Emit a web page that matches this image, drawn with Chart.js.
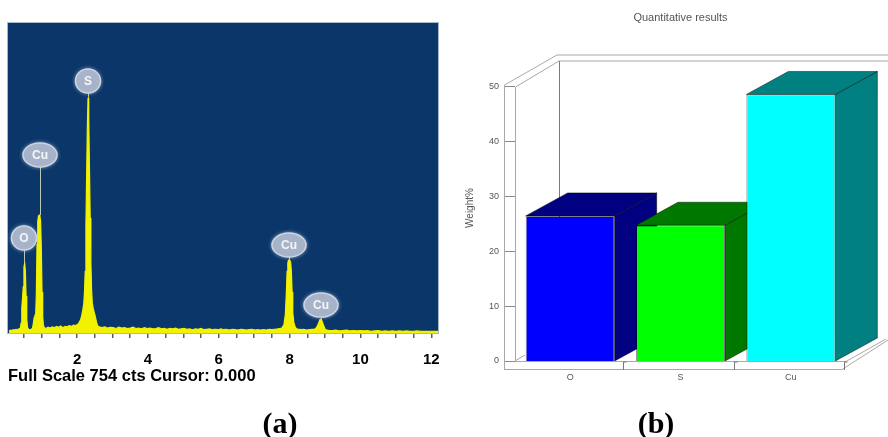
<!DOCTYPE html>
<html><head><meta charset="utf-8">
<script src="https://cdn.jsdelivr.net/npm/chart.js"></script>
<style>
html,body{margin:0;padding:0;background:#fff;width:888px;height:437px;overflow:hidden;position:relative}
canvas{position:absolute;top:0}
#ca{left:0}
#cb{left:444px}
.cap{position:absolute;font-family:'Liberation Serif','Times New Roman',serif;font-weight:bold;font-size:30px;line-height:30px;color:#000;transform:translateX(-50%);white-space:nowrap}
</style></head><body>
<canvas id="ca" width="444" height="437"></canvas>
<canvas id="cb" width="444" height="437"></canvas>
<div class="cap" style="left:280px;top:408px">(a)</div>
<div class="cap" style="left:656px;top:408px">(b)</div>
<script>
// ---------- (a) EDS spectrum ----------
const energyKeV = [
  0.08,0.12,0.16,0.20,0.24,0.28,0.32,0.36,0.40,0.42,0.44,0.46,0.48,0.50,0.52,0.54,0.56,0.58,0.60,
  0.63,0.66,0.70,0.74,0.77,0.79,0.81,0.83,0.85,0.87,0.89,0.91,0.93,0.95,0.97,0.99,1.01,1.03,1.05,
  1.08,1.12,1.18,1.24,1.30,1.36,1.42,1.48,1.54,1.60,1.66,1.72,1.78,1.84,1.90,1.96,2.02,
  2.06,2.10,2.13,2.16,2.19,2.21,2.23,2.25,2.27,2.29,2.31,2.33,2.35,2.37,2.39,2.41,2.43,2.46,2.49,2.52,2.55,2.58,2.62,
  2.70,2.78,2.86,2.94,3.02,3.10,3.18,3.26,3.34,3.42,
  3.50,3.58,3.66,3.74,3.82,3.90,3.98,4.06,4.14,4.22,
  4.30,4.38,4.46,4.54,4.62,4.70,4.78,4.86,4.94,5.02,
  5.10,5.18,5.26,5.34,5.42,5.50,5.58,5.66,5.74,5.82,
  5.90,5.98,6.06,6.14,6.22,6.30,6.38,6.46,6.54,6.62,
  6.70,6.78,6.86,6.94,7.02,7.10,7.18,7.26,7.34,7.42,
  7.50,7.58,7.66,
  7.72,7.78,7.84,7.88,7.91,7.93,7.95,7.97,8.00,8.03,8.05,8.07,8.09,8.12,8.16,8.20,8.26,8.32,8.40,8.48,8.56,8.64,
  8.70,8.75,8.79,8.83,8.86,8.89,8.92,8.96,9.00,9.05,9.12,9.20,
  9.30,9.40,9.50,9.60,9.70,9.80,9.90,10.00,10.10,10.20,
  10.30,10.40,10.50,10.60,10.70,10.80,10.90,11.00,11.10,11.20,
  11.30,11.40,11.50,11.60,11.70,11.80,11.90,12.00,12.10,12.19];
const counts = [
  5,7,6,8,7,9,8,10,12,24,62,84,112,160,170,152,90,34,14,
  9,8,9,11,26,38,42,40,95,215,272,284,287,285,272,210,100,40,18,
  13,11,14,12,15,13,16,14,17,13,16,15,18,16,19,18,21,
  26,32,42,55,72,100,150,260,380,500,572,520,400,280,170,105,72,58,48,38,26,18,15,
  13,15,12,14,13,11,14,12,13,11,
  12,14,11,12,10,13,11,12,10,11,
  13,10,11,9,11,10,12,9,10,11,
  9,10,8,10,9,11,8,9,10,8,
  9,8,10,8,9,7,9,8,7,9,
  8,7,8,9,7,8,7,8,7,9,
  8,9,10,
  11,12,20,45,100,150,170,177,178,172,150,100,50,25,14,10,9,8,9,7,8,9,
  9,12,18,27,33,34,28,18,10,7,6,6,
  7,5,6,7,5,6,5,6,5,6,
  4,5,6,4,5,4,5,4,5,4,
  5,4,4,5,4,4,4,4,4,4];
if (energyKeV.length !== counts.length) throw new Error('spectrum length mismatch ' + energyKeV.length + ' vs ' + counts.length);
const xTickValues = [0.5,1,1.5,2,2.5,3,3.5,4,4.5,5,5.5,6,6.5,7,7.5,8,8.5,9,9.5,10,10.5,11,11.5,12];
const xTickLabels = ['','','','2','','','','4','','','','6','','','','8','','','','10','','','','12'];
const peakLabelText = ['O','Cu','S','Cu','Cu'];
const peakLabelKeV = [0.51,0.94,2.31,7.99,8.88];
const peakTopCounts = [170,287,572,178,34];
const peakLabelCounts = [231,433,613,214,68];
const fullScaleText = 'Full Scale 754 cts Cursor: 0.000';

const SANS = "'Liberation Sans', Arial, sans-serif";

const navyBg = {
  id:'navyBg',
  beforeDatasetsDraw(chart){
    const {ctx, chartArea:a} = chart;
    ctx.save();
    ctx.fillStyle = '#0b3669';
    ctx.fillRect(a.left, a.top, a.right-a.left, a.bottom-a.top+1);
    ctx.strokeStyle = '#a9b9cc'; ctx.lineWidth = 1;
    ctx.strokeRect(a.left-0.5, a.top-0.5, a.right-a.left+1, a.bottom-a.top+1);
    ctx.restore();
  }
};
const peakLabels = {
  id:'peakLabels',
  afterDatasetsDraw(chart){
    const {ctx, scales:{x:xs, y:ys}} = chart;
    ctx.save();
    peakLabelText.forEach((t,i)=>{
      const x = Math.round(xs.getPixelForValue(peakLabelKeV[i]));
      const yTop = ys.getPixelForValue(peakTopCounts[i]);
      const yLab = ys.getPixelForValue(peakLabelCounts[i]);
      ctx.strokeStyle = '#b7c8ad'; ctx.lineWidth = 1;
      ctx.beginPath(); ctx.moveTo(x+0.5, yTop); ctx.lineTo(x+0.5, yLab); ctx.stroke();
      ctx.font = 'bold 12px ' + SANS;
      const w = ctx.measureText(t).width;
      const ry = 12, rx = t.length > 1 ? w/2 + 9 : 12.5;
      ctx.shadowColor = 'rgba(215,225,240,0.9)'; ctx.shadowBlur = 4;
      ctx.fillStyle = '#a6b3c8';
      ctx.beginPath(); ctx.ellipse(x, yLab, rx, ry, 0, 0, Math.PI*2); ctx.fill();
      ctx.shadowBlur = 0;
      ctx.strokeStyle = '#ccd5e2'; ctx.lineWidth = 1.5; ctx.stroke();
      ctx.fillStyle = '#f3f6fa'; ctx.textAlign = 'center'; ctx.textBaseline = 'middle';
      ctx.fillText(t, x, yLab + 0.5);
    });
    ctx.restore();
  }
};

new Chart(document.getElementById('ca'), {
  type:'line',
  data:{datasets:[{
    data: energyKeV.map((e,i)=>({x:e, y:counts[i]})),
    borderColor:'#f2f200', backgroundColor:'#f2f200', borderWidth:1.2,
    fill:'origin', pointRadius:0, tension:0
  }]},
  options:{
    responsive:false, animation:false, devicePixelRatio:1,
    layout:{padding:{left:8, top:23, right:6, bottom:0}},
    plugins:{legend:{display:false}, tooltip:{enabled:false}},
    scales:{
      x:{
        type:'linear', min:0.05, max:12.19,
        afterBuildTicks: s => { s.ticks = xTickValues.map(v => ({value:v})); },
        afterFit: s => { s.height = 104; s.paddingLeft = 0; s.paddingRight = 0; },
        ticks:{autoSkip:false, maxRotation:0, padding:13, color:'#000',
          font:{family:SANS, size:15, weight:'bold'},
          callback:(v,i) => xTickLabels[i]},
        grid:{drawOnChartArea:false, drawTicks:true, tickLength:5, color:'#5c5c5c', lineWidth:1.5},
        border:{display:false},
        title:{display:true, text:fullScaleText, align:'start', color:'#000',
          font:{family:SANS, size:16.5, weight:'bold'}, padding:{top:0, bottom:51}}
      },
      y:{display:false, min:0, max:754}
    }
  },
  plugins:[navyBg, peakLabels]
});

// ---------- (b) Quantitative results ----------
const categories = ['O','S','Cu'];
const weightPct = [26.4, 24.7, 48.5];
const yTickValues = [0,10,20,30,40,50];
const frontColors = ['#0000ff','#00ff00','#00ffff'];
const shadeColors = ['#000080','#007800','#008080'];

function poly(ctx, pts, fill, stroke){
  ctx.beginPath();
  pts.forEach((p,i)=> i ? ctx.lineTo(p[0],p[1]) : ctx.moveTo(p[0],p[1]));
  if (fill){ ctx.closePath(); ctx.fillStyle = fill; ctx.fill(); }
  if (stroke){ ctx.strokeStyle = stroke; ctx.stroke(); }
}

const frame3d = {
  id:'frame3d',
  beforeDatasetsDraw(chart){
    const {ctx, chartArea:a, scales:{x:xs, y:ys}} = chart;
    const y0 = Math.round(ys.getPixelForValue(0)), yM = Math.round(ys.getPixelForValue(50));
    const L = Math.round(a.left), R = Math.round(a.right), W = chart.width;
    const g = '#a9a9a9';
    ctx.save(); ctx.lineWidth = 1;
    poly(ctx, [[L-10.5, y0+8],[L-10.5, yM-1],[L+42, yM-31],[W, yM-31]], null, g);
    poly(ctx, [[L+0.5, y0],[L+0.5, yM+1],[L+44, yM-25],[W, yM-25]], null, g);
    poly(ctx, [[L+44.5, yM-25],[L+44.5, y0-25]], null, '#7a7a7a');
    poly(ctx, [[L-11, y0+8.5],[R-4, y0+8.5],[W, y0-21]], null, g);
    poly(ctx, [[L, y0+0.5],[R, y0+0.5],[R+40, y0-22]], null, g);
    poly(ctx, [[L, y0],[L+10, y0-6]], null, g);
    yTickValues.forEach(v => {
      const y = Math.round(ys.getPixelForValue(v)) + 0.5;
      poly(ctx, [[L-10, y],[L, y]], null, '#8a8a8a');
    });
    const cw = (R - L) / categories.length;
    for (let k = 1; k <= categories.length; k++){
      const bx = Math.round(L + k*cw) - 1.5;
      poly(ctx, [[bx, y0+1],[bx, y0+9]], null, '#777');
      poly(ctx, [[bx, y0+1],[bx+3, y0+1]], null, '#777');
    }
    const meta = chart.getDatasetMeta(0);
    const dx = 42, dy = -23;
    meta.data.forEach((bar,i) => {
      const p = bar.getProps(['x','y','base','width'], true);
      const l = p.x - p.width/2, r = p.x + p.width/2;
      poly(ctx, [[r,p.y],[r+dx,p.y+dy],[r+dx,p.base+dy],[r,p.base]], shadeColors[i], 'rgba(0,0,0,0.45)');
      poly(ctx, [[l,p.y],[l+dx,p.y+dy],[r+dx,p.y+dy],[r,p.y]], shadeColors[i], 'rgba(0,0,0,0.45)');
    });
    ctx.restore();
  },
  afterDraw(chart){
    const {ctx} = chart;
    ctx.save();
    ctx.translate(26, 208); ctx.rotate(-Math.PI/2);
    ctx.font = '10px ' + SANS; ctx.fillStyle = '#555';
    ctx.textAlign = 'center'; ctx.textBaseline = 'middle';
    ctx.fillText('Weight%', 0, 0);
    ctx.restore();
  }
};

new Chart(document.getElementById('cb'), {
  type:'bar',
  data:{labels:categories, datasets:[{
    data:weightPct, backgroundColor:frontColors, borderColor:'rgba(0,0,0,0.4)', borderWidth:1,
    barPercentage:0.807, categoryPercentage:1
  }]},
  options:{
    responsive:false, animation:false, devicePixelRatio:1,
    layout:{padding:{left:0, right:42, top:0, bottom:0}},
    plugins:{legend:{display:false}, tooltip:{enabled:false},
      title:{display:true, text:'Quantitative results', fullSize:false, color:'#555',
        font:{family:SANS, size:11, weight:'normal'}, padding:{top:11, bottom:62}}},
    scales:{
      x:{ticks:{color:'#555', font:{family:SANS, size:9}, padding:11},
         grid:{display:false, drawTicks:false}, border:{display:false},
         afterFit: s => { s.height = 76; }},
      y:{min:0, max:50,
         afterBuildTicks: s => { s.ticks = yTickValues.map(v => ({value:v})); },
         ticks:{color:'#555', font:{family:SANS, size:9}, padding:16},
         grid:{display:false, drawTicks:false}, border:{display:false},
         afterFit: s => { s.width = 71; }}
    }
  },
  plugins:[frame3d]
});
</script></body></html>
